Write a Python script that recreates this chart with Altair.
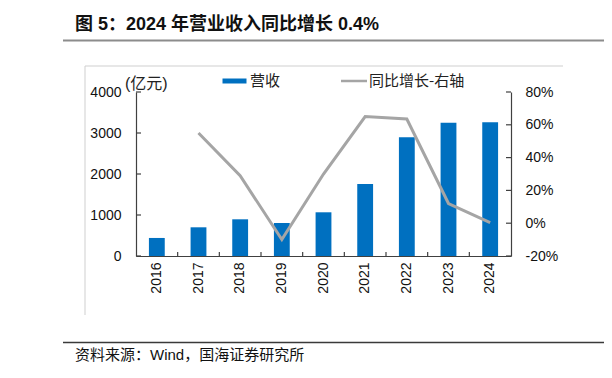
import altair as alt
import pandas as pd

# ---- data ----
years = ["2016", "2017", "2018", "2019", "2020", "2021", "2022", "2023", "2024"]
revenue = [440, 700, 895, 805, 1066, 1756, 2895, 3250, 3263]          # 亿元
growth = [None, 55, 29, -10, 30, 65, 63.5, 12, 0.4]                   # %
left_ticks = [0, 1000, 2000, 3000, 4000]
right_ticks = [-20, 0, 20, 40, 60, 80]

title_text = "图 5：2024 年营业收入同比增长 0.4%"
source_text = "资料来源：Wind，国海证券研究所"
unit_text = "(亿元)"
legend_bar = "营收"
legend_line = "同比增长-右轴"

df = pd.DataFrame({"year": years, "revenue": revenue, "growth": growth})

W, H = 375, 164
STEP = W / len(years)
LAT = "Liberation Sans, Arial, Noto Sans CJK SC, sans-serif"
CJK = "Noto Sans CJK SC, sans-serif"
BLUE = "#0070C0"
GRAY = "#A5A5A5"
AXC = "#404040"

xscale = alt.Scale(domain=years, paddingInner=0.62, paddingOuter=0.31)
xaxis = alt.Axis(title=None, labelAngle=-90, labelAlign="right", labelBaseline="middle",
                 labelFont=LAT, labelFontSize=14, labelColor="#111", labelPadding=6,
                 ticks=False, tickSize=0, domainColor=AXC, domainWidth=1.2,
                 labelOverlap=False, orient="bottom")

bars = alt.Chart(df).mark_bar(color=BLUE).encode(
    x=alt.X("year:N", scale=xscale, axis=xaxis),
    y=alt.Y("revenue:Q", scale=alt.Scale(domain=[0, 4000], nice=False),
            axis=alt.Axis(title=None, values=left_ticks, format="d", grid=False, ticks=False,
                          tickSize=0, labelFont=LAT, labelFontSize=14, labelColor="#111",
                          labelPadding=15, domainColor=AXC, domainWidth=1.2, orient="left")),
)

line = alt.Chart(df).mark_line(color=GRAY, strokeWidth=3).encode(
    x=alt.X("year:N", scale=xscale, bandPosition=0.5, axis=xaxis),
    y=alt.Y("growth:Q", scale=alt.Scale(domain=[-20, 80], nice=False),
            axis=alt.Axis(title=None, values=right_ticks, grid=False, ticks=False, tickSize=0,
                          labelFont=LAT, labelFontSize=14, labelColor="#111", labelPadding=14,
                          labelExpr="datum.value + '%'",
                          domainColor=AXC, domainWidth=1.2, orient="right")),
)

lt = alt.Chart(pd.DataFrame({"v": left_ticks})).mark_rule(color=AXC, strokeWidth=1.2).encode(
    y=alt.Y("v:Q", scale=alt.Scale(domain=[0, 4000], nice=False), axis=None),
    x=alt.value(0), x2=alt.value(5),
)
rt = alt.Chart(pd.DataFrame({"v": right_ticks})).mark_rule(color=AXC, strokeWidth=1.2).encode(
    y=alt.Y("v:Q", scale=alt.Scale(domain=[-20, 80], nice=False), axis=None),
    x=alt.value(W - 5), x2=alt.value(W),
)
xt = alt.Chart(pd.DataFrame({"year": years[1:]})).mark_rule(
    color=AXC, strokeWidth=1.2, xOffset=-STEP / 2).encode(
    x=alt.X("year:N", scale=xscale, bandPosition=0.5, axis=xaxis),
    y=alt.value(H - 4), y2=alt.value(H),
)


def txt(t, x, y, size, font=CJK, weight="normal", color="#222"):
    return alt.Chart(pd.DataFrame({"t": [t]})).mark_text(
        align="left", baseline="middle", font=font, fontSize=size,
        fontWeight=weight, color=color).encode(
        x=alt.value(x), y=alt.value(y), text="t:N")


def hrule(x1, x2, y, color, w):
    return alt.Chart(pd.DataFrame({"a": [0]})).mark_rule(color=color, strokeWidth=w).encode(
        x=alt.value(x1), x2=alt.value(x2), y=alt.value(y))


def vrule(x, y1, y2, color, w):
    return alt.Chart(pd.DataFrame({"a": [0]})).mark_rule(color=color, strokeWidth=w).encode(
        x=alt.value(x), y=alt.value(y1), y2=alt.value(y2))


deco = [
    txt(title_text, -61, -67, 18, font=LAT, weight="bold", color="#111"),
    hrule(-73, 476, -51.5, "#8c8c8c", 2),
    hrule(-73, 476, 250.5, "#3a3a3a", 1.5),
    txt(source_text, -61, 263, 15, font=LAT, color="#111"),
    hrule(-51, 427, -26, "#cfcfcf", 1),
    vrule(-51, -26, 223, "#cfcfcf", 1),
    vrule(471, -32, 231, "#c8c8c8", 1),
    txt(unit_text, -11, -8, 16, font=LAT, color="#222"),
    hrule(86.5, 110.5, -11, BLUE, 5),
    txt(legend_bar, 114, -11, 15, color="#222"),
    hrule(205, 231, -11, GRAY, 2.5),
    txt(legend_line, 233, -11, 15, color="#222"),
]

chart = alt.layer(bars, line, lt, rt, xt, *deco).resolve_scale(y="independent").properties(
    width=W, height=H,
    autosize=alt.AutoSizeParams(type="none"),
    padding={"left": 128, "top": 84, "right": 93, "bottom": 114},
    background="white",
).configure_view(stroke=None)

chart.save("out.html", embed_options={"renderer": "svg", "actions": False})
